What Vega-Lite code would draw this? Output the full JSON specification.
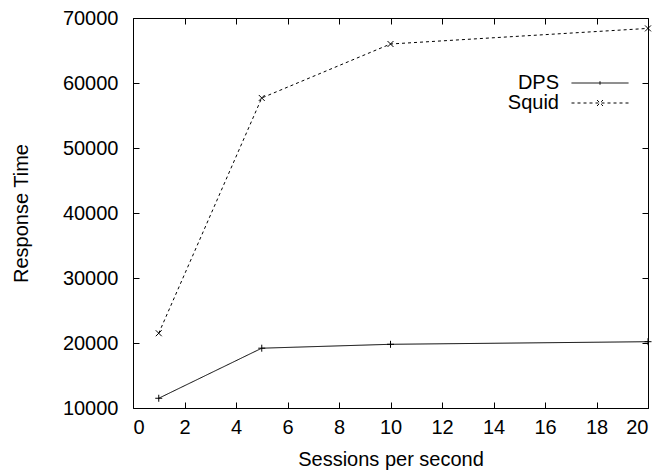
{
  "$schema": "https://vega.github.io/schema/vega-lite/v6.json",
  "width": 515,
  "height": 390,
  "autosize": {"type": "none"},
  "padding": {"left": 133, "top": 18, "right": 15, "bottom": 63},
  "background": "white",
  "config": {
    "font": "Liberation Sans",
    "view": {"stroke": "black", "strokeWidth": 1},
    "axis": {
      "grid": false,
      "domain": false,
      "tickColor": "black",
      "tickSize": -6,
      "labelColor": "black",
      "labelFont": "Liberation Sans",
      "labelFontSize": 20,
      "titleFont": "Liberation Sans",
      "titleFontSize": 20,
      "titleFontWeight": "normal",
      "titleColor": "black"
    },
    "legend": {
      "labelFont": "Liberation Sans",
      "labelFontSize": 20,
      "labelColor": "black",
      "padding": 0
    }
  },
  "data": {
    "values": [
      {"sessions": 1, "time": 11500, "series": "DPS"},
      {"sessions": 5, "time": 19200, "series": "DPS"},
      {"sessions": 10, "time": 19800, "series": "DPS"},
      {"sessions": 20, "time": 20200, "series": "DPS"},
      {"sessions": 1, "time": 21500, "series": "Squid"},
      {"sessions": 5, "time": 57700, "series": "Squid"},
      {"sessions": 10, "time": 66000, "series": "Squid"},
      {"sessions": 20, "time": 68400, "series": "Squid"}
    ]
  },
  "resolve": {"axis": {"x": "independent", "y": "independent"}},
  "layer": [
    {
      "mark": {"type": "line", "color": "black", "strokeWidth": 1},
      "encoding": {
        "x": {
          "field": "sessions", "type": "quantitative",
          "scale": {"domain": [0, 20], "nice": false, "zero": false},
          "axis": {"orient": "bottom", "values": [0,2,4,6,8,10,12,14,16,18,20], "title": "Sessions per second", "labelPadding": 15, "titlePadding": 12, "format": "d"}
        },
        "y": {
          "field": "time", "type": "quantitative",
          "scale": {"domain": [10000, 70000], "nice": false, "zero": false},
          "axis": {"orient": "left", "values": [10000,20000,30000,40000,50000,60000,70000], "title": "Response Time", "labelPadding": 21, "titlePadding": 31, "format": "d"}
        },
        "strokeDash": {
          "field": "series", "type": "nominal",
          "scale": {"domain": ["DPS", "Squid"], "range": [[1, 0], [3, 3]]},
          "legend": {
            "title": null,
            "orient": "none",
            "legendX": 457,
            "legendY": 55,
            "symbolSize": 100,
            "symbolStrokeColor": "black",
            "symbolStrokeWidth": 1,
            "labelAlign": "right",
            "labelOffset": -51,
            "rowPadding": 0,
            "encode": {
              "symbols": {
                "update": {
                  "shape": {"signal": "datum.value === 'DPS' ? 'M-5.7,0H5.7M0,-0.35V0.35' : 'M-5.7,0H5.7M-0.6,-0.6L0.6,0.6M-0.6,0.6L0.6,-0.6'"},
                  "stroke": {"value": "black"},
                  "fill": {"value": "transparent"}
                }
              }
            }
          }
        }
      }
    },
    {
      "transform": [{"filter": "datum.series === 'DPS'"}],
      "mark": {"type": "point", "filled": false, "color": "black", "strokeWidth": 1, "opacity": 1, "size": 49, "shape": "M-1,0H1M0,-1V1"},
      "encoding": {
        "x": {
          "field": "sessions", "type": "quantitative",
          "axis": {"orient": "top", "values": [0,2,4,6,8,10,12,14,16,18,20], "labels": false, "title": null}
        },
        "y": {
          "field": "time", "type": "quantitative",
          "axis": {"orient": "right", "values": [10000,20000,30000,40000,50000,60000,70000], "labels": false, "title": null}
        }
      }
    },
    {
      "transform": [{"filter": "datum.series === 'Squid'"}],
      "mark": {"type": "point", "filled": false, "color": "black", "strokeWidth": 1, "opacity": 1, "size": 49, "shape": "M-0.85,-0.85L0.85,0.85M-0.85,0.85L0.85,-0.85"},
      "encoding": {
        "x": {"field": "sessions", "type": "quantitative", "axis": null},
        "y": {"field": "time", "type": "quantitative", "axis": null}
      }
    }
  ]
}
